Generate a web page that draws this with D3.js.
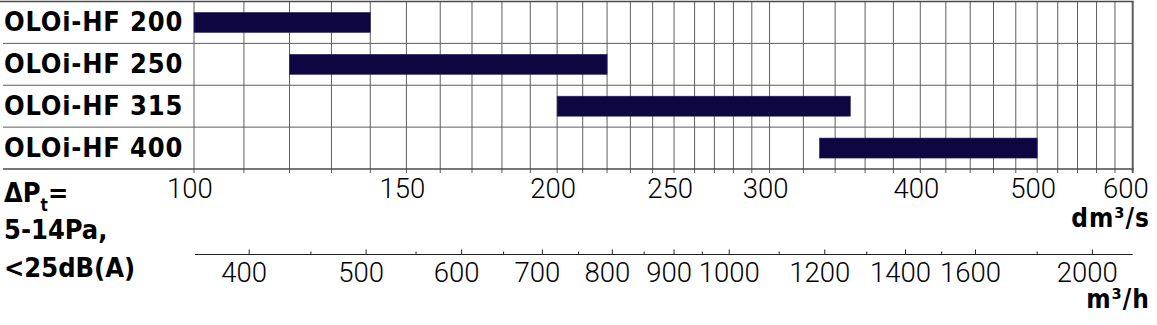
<!DOCTYPE html>
<html>
<head>
<meta charset="utf-8">
<script src="https://cdn.jsdelivr.net/npm/d3@7"></script>
<style>
  body { margin: 0; background: #fff; }
  svg { display: block; }
  .bold { font-family: "DejaVu Sans Condensed", "DejaVu Sans", sans-serif; font-stretch: condensed; font-weight: bold; fill: #000; }
  .num { font-family: Roboto, "Open Sans", sans-serif; font-weight: 300; font-size: 27.5px; fill: #000; }
</style>
</head>
<body>
<div id="vis"></div>
<script>
// models and their air flow range in dm3/s
const models = ["OLOi-HF 200", "OLOi-HF 250", "OLOi-HF 315", "OLOi-HF 400"];
const flowMin = [100, 120, 200, 330];
const flowMax = [140, 220, 350, 500];

// dm3/s axis
const dmTicks = [100, 150, 200, 250, 300, 400, 500, 600];
const gridValues = [100, 110, 120, 130, 140, 150, 160, 170, 180, 190, 200, 210, 220, 230, 240,
  250, 260, 270, 280, 290, 300, 320, 340, 360, 380, 400, 420, 440, 460, 480, 500,
  520, 540, 560, 580, 600];

// m3/h axis
const m3hTicks = [400, 500, 600, 700, 800, 900, 1000, 1200, 1400, 1600, 2000];
const m3hMinor = [450, 550, 650, 750, 850, 950, 1100, 1300, 1500, 1800];
const dmToM3h = 3.6;

const W = 1157, H = 325;
const plotLeft = 194, plotRight = 1132.7;
const plotTop = 1.5, axisY = 169, axis2Y = 254.5;

const svg = d3.select("#vis")
  .append("svg")
  .attr("width", W)
  .attr("height", H);

const x = d3.scaleLog()
  .domain([100, 600])
  .range([plotLeft, plotRight]);

const x2 = d3.scaleLog()
  .domain([100 * dmToM3h, 600 * dmToM3h])
  .range([plotLeft, plotRight]);

const y = d3.scaleBand()
  .domain(models)
  .range([plotTop, axisY]);

// vertical grid lines (with small ticks below the axis)
svg.append("g")
  .selectAll("line")
  .data(gridValues)
  .join("line")
  .attr("x1", d => x(d))
  .attr("x2", d => x(d))
  .attr("y1", plotTop)
  .attr("y2", axisY + 4)
  .attr("stroke", "#5e5e5e")
  .attr("stroke-width", d => d === 600 ? 2 : 1);

// horizontal lines
svg.append("line")
  .attr("x1", 0).attr("x2", plotRight + 1)
  .attr("y1", plotTop).attr("y2", plotTop)
  .attr("stroke", "#4a4a4a").attr("stroke-width", 1.5);

svg.append("g")
  .selectAll("line")
  .data(models.slice(1))
  .join("line")
  .attr("x1", 3).attr("x2", plotRight)
  .attr("y1", d => y(d)).attr("y2", d => y(d))
  .attr("stroke", "#5e5e5e");

svg.append("line")
  .attr("x1", 3).attr("x2", plotRight + 1)
  .attr("y1", axisY).attr("y2", axisY)
  .attr("stroke", "#4a4a4a").attr("stroke-width", 1.5);

// bars
const barH = 20;
svg.append("g")
  .selectAll("rect")
  .data(models)
  .join("rect")
  .attr("x", (d, i) => x(flowMin[i]))
  .attr("width", (d, i) => x(flowMax[i]) - x(flowMin[i]))
  .attr("y", d => y(d) + y.bandwidth() / 2 - barH / 2)
  .attr("height", barH)
  .attr("fill", "#0d0640")
  .attr("stroke", "#2c2766")
  .attr("stroke-width", 0.6);

// row labels
svg.append("g")
  .selectAll("text")
  .data(models)
  .join("text")
  .attr("class", "bold")
  .attr("x", 4)
  .attr("y", d => y(d) + y.bandwidth() / 2 + 8.5)
  .style("font-size", "27px")
  .style("letter-spacing", "0.8px")
  .text(d => d);

// dm3/s tick labels
svg.append("g")
  .selectAll("text")
  .data(dmTicks)
  .join("text")
  .attr("class", "num")
  .attr("x", d => x(d) - 4)
  .attr("y", 197.5)
  .attr("text-anchor", d => d === 600 ? "end" : "middle")
  .attr("dx", d => d === 600 ? 20 : 0)
  .text(d => d);

svg.append("text")
  .attr("class", "bold")
  .attr("x", 1150)
  .attr("y", 227)
  .attr("text-anchor", "end")
  .style("font-size", "26px")
  .style("letter-spacing", "1px")
  .text("dm³/s");

// m3/h axis
const axis2 = svg.append("g")
  .attr("transform", `translate(0,${axis2Y})`);

axis2.append("line")
  .attr("x1", plotLeft + 1).attr("x2", plotRight)
  .attr("stroke", "#222").attr("stroke-width", 1.2);

axis2.selectAll(".major")
  .data(m3hTicks)
  .join("line")
  .attr("class", "major")
  .attr("x1", d => x2(d)).attr("x2", d => x2(d))
  .attr("y1", 0).attr("y2", -5)
  .attr("stroke", "#222");

axis2.selectAll(".minor")
  .data(m3hMinor)
  .join("line")
  .attr("class", "minor")
  .attr("x1", d => x2(d)).attr("x2", d => x2(d))
  .attr("y1", 0).attr("y2", -3)
  .attr("stroke", "#222");

axis2.selectAll("text")
  .data(m3hTicks)
  .join("text")
  .attr("class", "num")
  .attr("x", d => x2(d) - (d === 1000 ? 0 : 5))
  .attr("y", 27.5)
  .attr("text-anchor", "middle")
  .text(d => d);

svg.append("text")
  .attr("class", "bold")
  .attr("x", 1150)
  .attr("y", 307.5)
  .attr("text-anchor", "end")
  .style("font-size", "26px")
  .style("letter-spacing", "1px")
  .text("m³/h");

// pressure / sound conditions
const cond = svg.append("g")
  .attr("class", "bold")
  .style("font-size", "27px");

const l1 = cond.append("text").attr("x", 4).attr("y", 201.5);
l1.append("tspan").text("ΔP");
l1.append("tspan").attr("dy", 9).style("font-size", "17px").text("t");
l1.append("tspan").attr("dy", -9).text("=");

cond.append("text").attr("x", 4).attr("y", 238.5).text("5-14Pa,");
cond.append("text").attr("x", 4).attr("y", 276.5).text("<25dB(A)");
</script>
</body>
</html>
